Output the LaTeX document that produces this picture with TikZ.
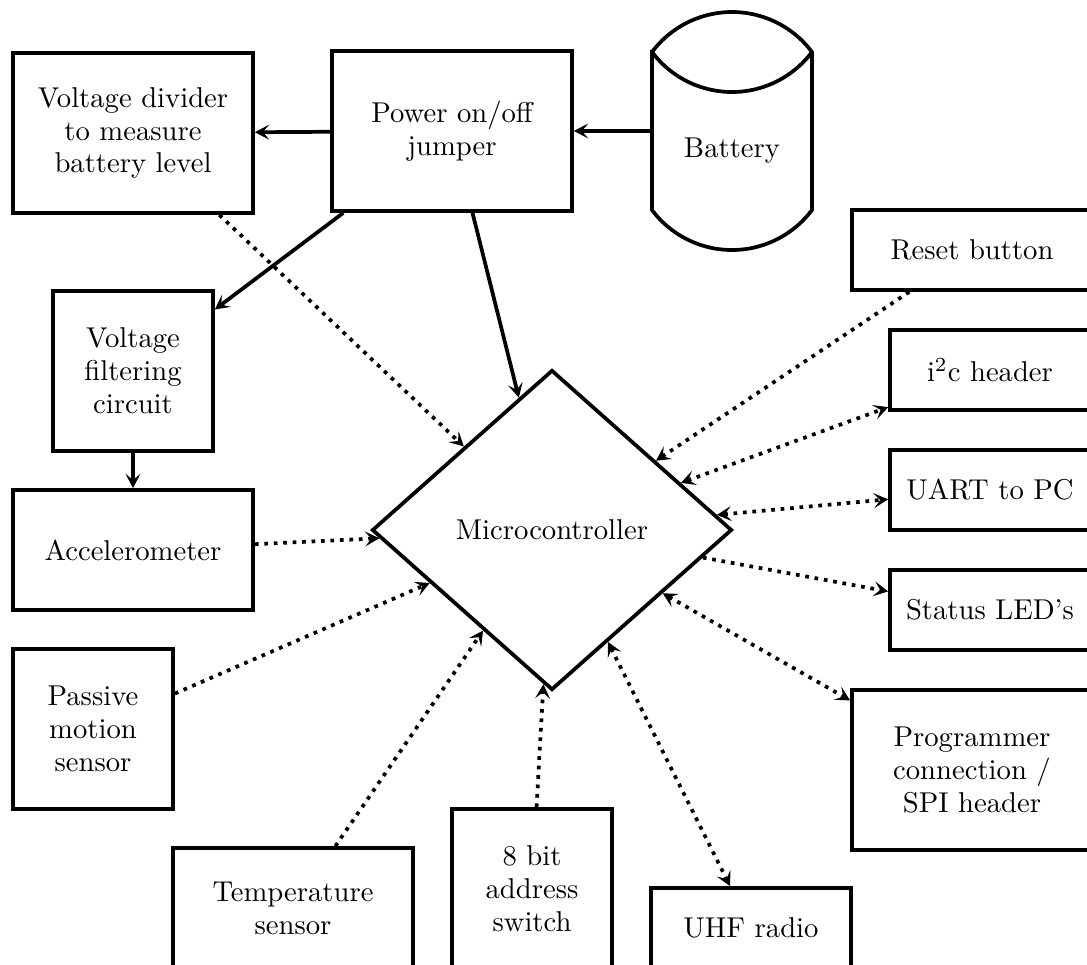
\documentclass[tikz,border=0pt]{standalone}
\usetikzlibrary{shapes.geometric,arrows.meta}

\begin{document}
\begin{tikzpicture}[
    x=0.3489pt, y=-0.3489pt,
    font=\fontsize{10}{11.5}\selectfont,
    >={Stealth[length=5pt, width=5.2pt, inset=2.2pt]},
    edge/.style={line width=1.3pt},
    solidarrow/.style={edge, ->},
    dotarrow/.style={edge, dotted, ->},
    dotboth/.style={edge, dotted, <->},
    blk/.style 2 args={draw, rectangle, line width=1.3pt, align=center,
      inner sep=2pt, minimum width=#1*0.3489pt, minimum height=#2*0.3489pt},
    mcu/.style={draw, diamond, line width=1.3pt, inner sep=0pt,
      minimum width=360*0.3489pt, minimum height=320*0.3489pt},
  ]
  \useasboundingbox (0,0) rectangle (1087,965);
  \clip (0,0) rectangle (1087,965);

  % power path
  \node[blk={240}{160}] (divider) at (133,133) {Voltage divider\\to measure\\battery level};
  \node[blk={240}{160}] (power)   at (452,131) {Power on/off\\jumper};
  \node[inner sep=0pt, minimum width=160*0.3489pt, minimum height=158*0.3489pt] (battery) at (732,131) {};
  \node (batterylabel) at (732,151) {Battery};
  \draw[line width=1.3pt] (652,52) -- (652,210)
      arc[start angle=143.13, end angle=36.87, radius=100]
      -- (812,52)
      arc[start angle=-36.87, end angle=-143.13, radius=100] -- cycle;
  \draw[line width=1.3pt] (652,52) arc[start angle=143.13, end angle=36.87, radius=100];

  \node[blk={160}{160}] (filter)  at (133,371) {Voltage\\filtering\\circuit};
  \node[blk={240}{120}] (accel)   at (133,550) {Accelerometer};
  \node[blk={160}{160}] (pir)     at (93,729)  {Passive\\motion\\sensor};
  \node[blk={240}{120}] (temp)    at (293,908) {Temperature\\sensor};
  \node[blk={160}{160}] (addr)    at (532,889) {8 bit\\address\\switch};
  \node[blk={200}{80}]  (uhf)     at (751,928) {UHF radio};

  % peripherals on the right
  \node[blk={240}{80}]  (reset)   at (972,250) {Reset button};
  \node[blk={200}{80}]  (iic)     at (990,370) {i\textsuperscript{2}c header};
  \node[blk={200}{80}]  (uart)    at (990,490) {UART to PC};
  \node[blk={200}{80}]  (leds)    at (990,610) {Status LED's};
  \node[blk={240}{160}] (prog)    at (972,770) {Programmer\\connection /\\SPI header};

  \node[mcu] (micro) at (552,530) {Microcontroller};

  % supply connections
  \draw[solidarrow] (power) -- (divider);
  \draw[solidarrow] (battery) -- (power);
  \draw[solidarrow] (power) -- (filter);
  \draw[solidarrow] (power) -- (micro);
  \draw[solidarrow] (filter) -- (accel);

  % signal connections
  \draw[dotarrow] (divider) -- (micro);
  \draw[dotarrow] (accel) -- (micro);
  \draw[dotarrow] (pir) -- (micro);
  \draw[dotarrow] (temp) -- (micro);
  \draw[dotarrow] (addr) -- (micro);
  \draw[dotboth]  (micro) -- (uhf);
  \draw[dotboth]  (micro) -- (prog);
  \draw[dotarrow] (micro) -- (leds);
  \draw[dotboth]  (micro) -- (uart);
  \draw[dotboth]  (micro) -- (iic);
  \draw[dotarrow] (reset) -- (micro);
\end{tikzpicture}
\end{document}
